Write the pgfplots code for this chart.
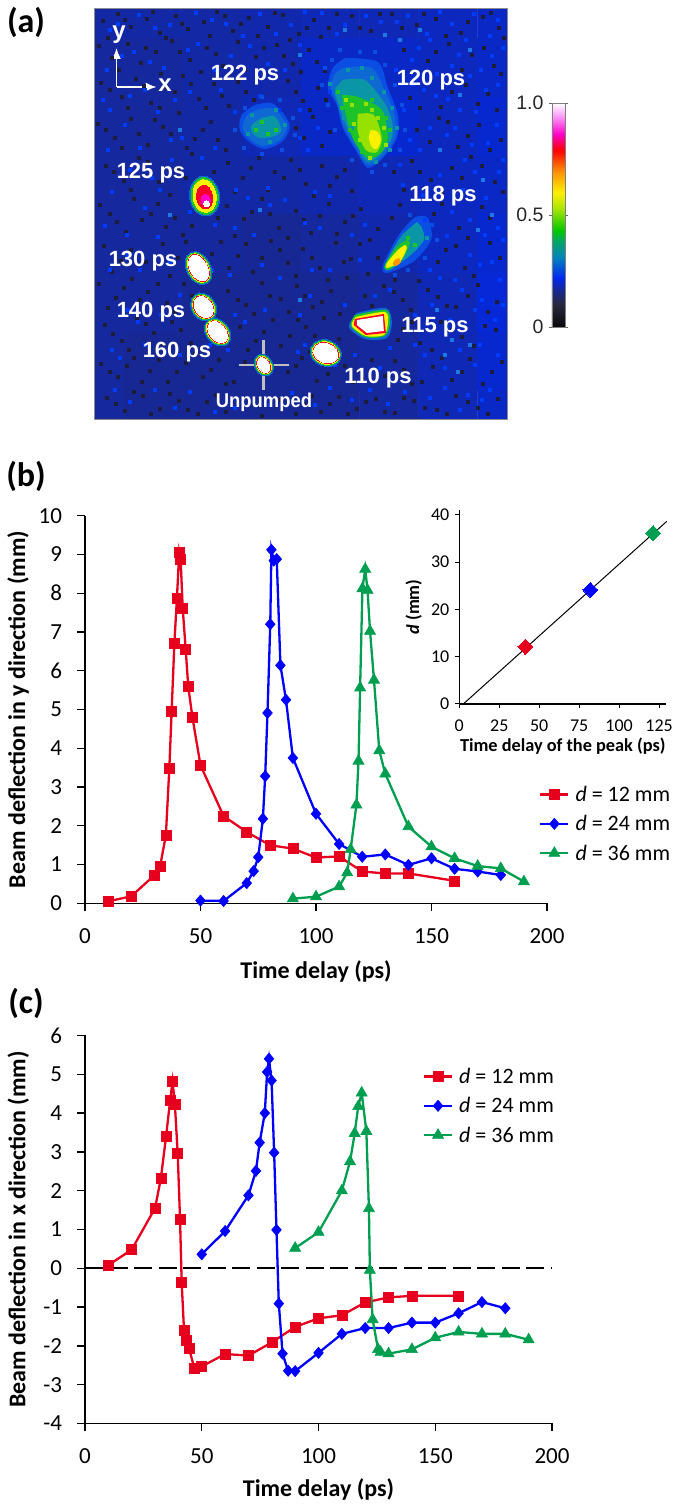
\documentclass[border=0pt]{standalone}
\usepackage{graphicx}
\usepackage{fontspec}
\setmainfont{Carlito}
\newfontfamily\arial{Liberation Sans}
\usepackage{pgfplots}
\pgfplotsset{compat=1.18}
\usetikzlibrary{arrows.meta}

\definecolor{cred}{RGB}{230,0,30}
\definecolor{cblue}{RGB}{0,0,255}
\definecolor{cgreen}{RGB}{0,158,80}
\definecolor{hfaint}{RGB}{10,78,228}
\definecolor{hblue}{RGB}{15,105,210}
\definecolor{hteal}{RGB}{10,150,165}
\definecolor{hgreen}{RGB}{30,195,40}
\definecolor{hlime}{RGB}{150,225,0}
\definecolor{hyellow}{RGB}{250,240,0}
\definecolor{horange}{RGB}{255,150,0}
\definecolor{hred}{RGB}{245,0,40}
\definecolor{hmag}{RGB}{255,0,200}
\definecolor{gdark}{RGB}{28,28,60}
\definecolor{gbright}{RGB}{0,60,255}
\definecolor{gcyan}{RGB}{30,120,230}

\newcommand\fsz[1]{\fontsize{#1}{#1}\selectfont}

\pgfplotsset{
  colormap={beam}{
    rgb255(0pt)=(10,10,10); rgb255(10pt)=(40,40,60); rgb255(16pt)=(25,40,140);
    rgb255(22pt)=(0,40,240); rgb255(31pt)=(0,130,190); rgb255(39pt)=(0,170,90);
    rgb255(43pt)=(0,200,0); rgb255(53pt)=(170,230,0); rgb255(60pt)=(255,240,0);
    rgb255(69pt)=(255,150,0); rgb255(79pt)=(255,0,0); rgb255(86pt)=(255,0,200);
    rgb255(95pt)=(255,170,255); rgb255(100pt)=(255,255,255)},
  lineaxis/.style={
    scale only axis, clip=false,
    axis x line*=bottom, axis y line*=left,
    axis line style={-,line width=1.5pt},
    every tick/.style={black,line width=1.3pt},
    tick align=outside, major tick length=7.5pt,
    /pgf/number format/assume math mode=true,
    tick label style={font=\fsz{23}},
    label style={font=\fsz{24}\bfseries},
    xmin=0, xmax=200, xtick={0,50,100,150,200},
    yticklabel style={xshift=-12pt},
    xticklabel style={yshift=-14pt},
    legend cell align=left,
    legend style={draw=none,fill=none,font=\fsz{22},row sep=12.5pt,inner sep=0pt,
      nodes={inner xsep=6pt,inner ysep=0pt}},
    legend image code/.code={\draw[##1,mark repeat=2,mark phase=2] plot coordinates {(0pt,0pt)(14pt,0pt)(28pt,0pt)};},
  },
  sred/.style={cred,line width=2.3pt,mark=square*,mark size=5pt,mark options={solid,fill=cred,line width=.6pt}},
  sblue/.style={cblue,line width=2.3pt,mark=diamond*,mark size=5.6pt,mark options={solid,fill=cblue,xscale=1.15,line width=.6pt}},
  sgreen/.style={cgreen,line width=2.3pt,mark=triangle*,mark size=6.4pt,mark options={solid,fill=cgreen,line width=.6pt}},
  grain/.style={only marks,mark=square*,mark size=1.5pt,color=#1,mark options={fill=#1,line width=0pt}},
}

\newcommand\spotlayer[6]{\addplot[only marks,mark=*,mark size=1pt,color=#6,
  mark options={fill=#6,line width=0pt,rotate=#5,xscale=#3,yscale=#4}] coordinates {(#1,#2)};}
% white saturated spot with its coloured rim
\newcommand\spot[5]{%
  \spotlayer{#1}{#2}{\fpeval{#3+3.5}}{\fpeval{#4+3.5}}{#5}{hblue}
  \spotlayer{#1}{#2}{\fpeval{#3+2.4}}{\fpeval{#4+2.4}}{#5}{hgreen}
  \spotlayer{#1}{#2}{\fpeval{#3+1.4}}{\fpeval{#4+1.4}}{#5}{hyellow}
  \spotlayer{#1}{#2}{\fpeval{#3+0.7}}{\fpeval{#4+0.7}}{#5}{hred}
  \spotlayer{#1}{#2}{#3}{#4}{#5}{white}
}
\newcommand\blob[2]{\addplot[fill=#1,draw=none,smooth] coordinates {#2};}
\newcommand\lbl[3]{\node[text=white,font=\arial\fsz{22}\bfseries,inner sep=0pt] at (#1pt,1507pt-#2pt) {#3};}

\begin{document}
\begin{tikzpicture}
\path[use as bounding box] (0,0) rectangle (679pt,1507pt);

% (a) camera image, coordinates are picture pixels
\begin{axis}[
  at={(94.5pt,1087pt)}, anchor=south west,
  scale only axis, width=412.5pt, height=411pt,
  xmin=95, xmax=507, ymin=9, ymax=420, y dir=reverse,
  ticks=none, axis line style={draw=black!45,line width=1pt}, axis on top,
  colormap name=beam, point meta min=0, point meta max=1,
  colorbar,
  colorbar style={
    at={(1.109,0.226)}, anchor=south west,
    width=13pt, height=224pt,
    ytick={0,0.5,1}, yticklabels={0,0.5,1.0},
    yticklabel pos=left,
    axis line style={draw=black!50,line width=.8pt},
    every tick/.style={black!60,line width=.6pt},
    tick align=outside, major tick length=3pt,
    yticklabel style={font=\arial\fsz{19.5},text=black!85,xshift=-2pt},
    /pgf/number format/assume math mode=true,
  },
]
\addplot[matrix plot*, mesh/cols=8, point meta=\thisrow{c}] table {
x y c
95 9 .175
154 9 .175
213 9 .175
272 9 .18
330 9 .185
389 9 .185
448 9 .19
507 9 .195
95 68 .17
154 68 .17
213 68 .175
272 68 .18
330 68 .195
389 68 .195
448 68 .19
507 68 .195
95 127 .17
154 127 .17
213 127 .175
272 127 .185
330 127 .195
389 127 .2
448 127 .19
507 127 .2
95 185 .17
154 185 .17
213 185 .175
272 185 .175
330 185 .18
389 185 .185
448 185 .19
507 185 .195
95 244 .17
154 244 .17
213 244 .17
272 244 .165
330 244 .17
389 244 .18
448 244 .19
507 244 .2
95 303 .17
154 303 .17
213 303 .165
272 303 .165
330 303 .165
389 303 .17
448 303 .185
507 303 .205
95 361 .17
154 361 .165
213 361 .165
272 361 .165
330 361 .165
389 361 .17
448 361 .185
507 361 .2
95 420 .17
154 420 .165
213 420 .165
272 420 .165
330 420 .165
389 420 .17
448 420 .185
507 420 .195
};
% dark and bright grains of the background
\addplot[grain=gdark] coordinates {
(103,21)(118,14)(131,27)(147,19)(160,33)(176,16)(188,29)(204,22)(217,12)(233,31)(249,18)(268,27)(283,15)(299,34)(314,20)(329,28)(352,16)(371,31)(392,14)(417,25)(436,19)(461,33)(483,17)(499,28)
(99,46)(112,58)(128,44)(141,63)(156,52)(172,41)(190,60)(207,48)(223,66)(238,42)(256,57)(277,45)(293,64)(309,50)(325,71)(404,50)(428,61)(449,44)(472,55)(494,66)
(101,83)(122,97)(136,79)(151,103)(167,88)(183,76)(199,99)(214,84)(229,106)(246,92)(288,81)(303,101)(318,88)(410,98)(441,107)(466,85)(488,94)
(98,124)(115,138)(131,119)(148,145)(163,127)(179,113)(195,139)(211,122)(226,150)(296,128)(313,117)(322,146)(417,130)(439,118)(458,147)(479,125)(501,140)
(106,166)(124,181)(139,158)(178,169)(192,154)(228,163)(243,178)(259,158)(275,172)(291,160)(306,184)(322,166)(337,177)(352,191)(394,172)(412,161)(431,180)(452,168)(471,157)(495,182)
(100,205)(117,222)(134,199)(151,214)(166,227)(183,235)(227,206)(244,219)(262,199)(279,228)(296,211)(311,233)(329,204)(345,222)(361,209)(378,229)(400,205)(434,214)(459,228)(482,207)
(104,246)(121,261)(163,244)(178,258)(221,242)(238,256)(253,272)(271,241)(288,263)(303,249)(320,268)(336,243)(351,259)(368,274)(446,250)(465,268)(490,243)
(99,284)(116,298)(132,279)(148,292)(167,303)(184,284)(228,291)(246,305)(262,283)(281,299)(297,286)(313,307)(331,291)(347,278)(365,296)(384,286)(403,300)(419,281)(438,297)(456,307)(478,285)(497,302)
(105,325)(122,341)(137,318)(154,333)(172,322)(191,343)(240,327)(256,341)(273,320)(290,336)(306,327)(324,318)(339,339)(403,329)(420,343)(441,322)(462,337)(485,326)
(101,364)(118,377)(134,358)(150,371)(168,382)(186,363)(203,377)(219,360)(234,382)(288,372)(302,358)(317,381)(345,366)(362,379)(395,361)(412,384)(433,367)(452,380)(470,359)(492,372)
(107,398)(125,411)(143,396)(160,409)(179,401)(198,414)(216,395)(304,404)(321,412)(339,397)(357,409)(376,399)(395,413)(414,401)(437,410)(456,396)(478,408)(498,399)
(108,38)(125,20)(153,12)(166,38)(182,24)(210,36)(225,16)(241,24)(258,36)(275,13)(290,40)(307,28)(321,37)(337,14)(360,28)(380,14)(402,28)(424,14)(446,36)(468,22)(491,13)(504,38)
(119,70)(146,48)(161,74)(180,52)(201,72)(216,54)(245,70)(264,48)(284,56)(301,72)(317,62)(412,72)(436,52)(462,70)(484,48)(501,74)
(110,90)(128,108)(144,86)(160,108)(175,92)(191,84)(206,108)(222,96)(238,82)(254,100)(296,92)(310,110)(326,100)(420,108)(452,92)(478,104)(497,110)
(106,130)(122,148)(139,134)(155,120)(171,134)(187,148)(203,130)(218,140)(304,138)(330,132)(430,142)(448,122)(468,136)(490,150)
(114,172)(131,190)(148,162)(159,182)(170,195)(186,178)(214,172)(235,192)(251,168)(268,190)(284,178)(300,170)(314,196)(330,186)(345,170)(404,190)(420,172)(442,192)(462,178)(482,166)(503,192)
(110,214)(126,232)(142,220)(158,204)(175,218)(192,226)(218,218)(235,236)(252,212)(270,214)(288,238)(304,220)(320,216)(337,234)(353,216)(370,240)(392,218)(442,204)(468,238)(490,218)
(112,272)(131,250)(146,262)(170,276)(186,242)(212,254)(229,268)(246,244)(262,258)(280,250)(296,276)(312,258)(328,280)(344,262)(360,244)(378,258)(395,280)(438,262)(456,246)(474,276)(500,258)
(108,308)(124,288)(140,300)(158,284)(175,312)(192,296)(238,300)(254,314)(270,296)(289,312)(305,296)(322,302)(340,314)(372,306)(394,292)(411,310)(428,290)(447,306)(468,296)(488,312)
(113,334)(129,350)(146,324)(163,344)(181,330)(248,350)(264,332)(281,346)(298,320)(315,336)(331,348)(398,340)(412,322)(432,350)(452,330)(474,346)(496,330)
(110,372)(127,366)(142,382)(159,360)(177,372)(195,354)(211,370)(226,384)(245,362)(296,366)(310,352)(328,374)(353,382)(372,360)(385,376)(404,370)(422,382)(442,358)(462,372)(483,384)(502,362)
(116,404)(134,392)(151,414)(170,394)(188,410)(207,402)(226,412)(262,416)(281,400)(296,414)(312,396)(330,404)(348,414)(366,402)(385,412)(404,398)(425,408)(447,414)(468,402)(488,414)
};
\addplot[grain=gbright] coordinates {
(110,30)(139,15)(170,25)(196,13)(226,24)(260,14)(291,25)(322,13)(345,25)(381,22)(408,16)(427,34)(452,24)(474,14)(490,36)
(107,70)(134,52)(164,68)(198,44)(231,56)(268,64)(300,45)(396,70)(419,48)(437,74)(459,55)(481,70)(503,48)
(110,110)(145,90)(175,100)(221,90)(279,110)(330,92)(404,110)(424,90)(448,99)(476,112)(498,85)
(108,150)(171,140)(202,158)(308,150)(420,150)(447,135)(465,160)(488,143)(503,160)
(112,192)(160,190)(236,190)(268,188)(315,192)(403,185)(423,195)(463,190)(486,198)
(127,235)(158,237)(215,225)(254,235)(305,223)(352,235)(447,236)(470,220)(498,228)
(110,270)(140,270)(230,275)(280,278)(330,270)(360,260)(430,270)(455,280)(480,265)(500,280)
(128,310)(161,315)(235,315)(265,310)(300,315)(345,305)(415,315)(450,320)(475,310)(495,320)
(112,350)(145,345)(180,355)(228,350)(305,345)(355,355)(390,348)(425,355)(460,350)(480,345)
(115,390)(155,390)(190,392)(235,408)(292,393)(330,388)(370,390)(405,392)(445,388)(468,395)(490,390)
(118,24)(155,28)(212,20)(243,36)(276,34)(305,12)(337,34)(366,16)(397,22)(440,12)(466,40)(498,20)
(122,56)(150,62)(188,50)(215,70)(250,46)(285,70)(412,60)(430,40)(452,66)(470,76)(492,56)
(103,100)(130,96)(158,112)(190,92)(235,112)(260,96)(300,110)(412,84)(436,96)(460,110)(486,90)
(125,125)(140,148)(182,138)(215,148)(300,138)(318,128)(410,140)(430,128)(455,128)(472,145)(497,125)
(130,170)(152,178)(172,160)(210,180)(248,198)(285,200)(330,196)(400,165)(440,175)(475,172)(499,172)
(105,226)(145,208)(190,212)(235,228)(270,205)(320,228)(365,225)(425,220)(452,212)(485,235)(503,240)
(128,255)(170,262)(212,270)(262,265)(312,270)(390,290)(440,278)(470,255)(492,262)
(138,322)(180,295)(245,322)(310,296)(375,296)(432,305)(462,290)(482,300)(503,305)
(120,358)(165,352)(210,345)(298,352)(335,365)(380,368)(415,345)(445,368)(475,365)(498,355)
(130,402)(175,408)(215,412)(270,405)(315,405)(352,400)(388,404)(430,398)(460,410)(482,400)
};
\addplot[grain=gcyan] coordinates {
(437,310)(445,355)(452,340)(458,372)(470,345)(492,215)(478,230)(483,180)(440,150)(460,95)(470,50)(420,30)(400,40)(385,35)(345,30)(300,55)(180,130)(170,215)(300,300)(260,210)
};
% 122 ps
\blob{hfaint}{(255,105)(272,103)(285,115)(290,128)(282,142)(265,149)(250,142)(240,130)(242,115)(255,105)}
\blob{hblue}{(257,110)(272,108)(283,118)(287,129)(279,141)(263,146)(250,139)(243,128)(247,116)(257,110)}
\blob{hteal}{(262,118)(274,116)(280,124)(281,132)(272,137)(260,138)(252,132)(252,125)(262,118)}
% 120 ps
\blob{hfaint}{(345,58)(378,62)(388,88)(398,115)(397,138)(383,158)(368,168)(357,152)(343,128)(337,105)(328,88)(333,68)(345,58)}
\blob{hblue}{(344,68)(372,68)(386,93)(395,116)(395,138)(382,157)(368,165)(357,150)(344,127)(337,103)(331,88)(335,74)(344,68)}
\blob{hteal}{(343,80)(365,80)(384,102)(392,120)(392,138)(381,154)(368,162)(357,146)(346,124)(338,102)(335,90)(343,80)}
\blob{hgreen}{(342,95)(358,97)(382,110)(388,138)(381,153)(368,158)(354,140)(346,115)(342,95)}
\blob{hlime}{(358,114)(374,115)(382,138)(377,152)(366,150)(358,132)(358,114)}
\blob{hyellow}{(371,130)(378,132)(381,140)(377,149)(372,147)(369,138)(371,130)}
% 118 ps
\blob{hfaint}{(415,217)(427,217)(432,235)(427,247)(413,262)(387,273)(383,265)(397,238)(407,225)(415,217)}
\blob{hteal}{(417,222)(422,228)(424,240)(412,254)(390,270)(385,265)(400,238)(410,228)(417,222)}
\blob{hgreen}{(407,240)(410,243)(403,258)(388,270)(385,265)(397,247)(407,240)}
\blob{hyellow}{(405,245)(407,248)(400,262)(387,268)(387,263)(398,250)(405,245)}
\blob{horange}{(399,258)(401,262)(396,266)(393,264)(395,260)(399,258)}
% rough edges of the three diffuse spots
\addplot[grain=hfaint] coordinates {
(332,60)(340,50)(360,52)(375,52)(385,65)(395,85)(402,105)(405,130)(400,150)(385,165)(372,172)(352,160)(335,130)(328,105)(322,85)(325,68)
(245,108)(262,97)(280,100)(293,118)(295,135)(282,150)(262,154)(244,148)(235,130)
(432,225)(437,240)(425,258)(408,270)(395,275)(410,215)};
\addplot[grain=hteal] coordinates {
(348,70)(362,68)(372,78)(340,88)(330,84)(384,92)(392,108)(397,128)(352,128)(344,118)(390,150)(376,162)
(252,115)(276,110)(285,125)(270,142)(248,134)(420,232)(427,238)(412,250)};
\addplot[grain=hlime] coordinates {
(352,105)(346,100)(362,122)(378,118)(384,128)(360,140)(386,145)(370,158)(354,124)(366,104)(372,110)};
\addplot[grain=hgreen] coordinates {
(338,92)(372,100)(386,118)(390,130)(350,130)(362,152)(342,108)(408,238)(415,245)
(262,122)(276,130)(256,130)(268,134)};
% 115 ps
\blob{hblue}{(357,313)(386,308)(392,322)(387,338)(365,339)(349,327)(357,313)}
\blob{hgreen}{(355,315)(386,310)(390,323)(385,336)(365,337)(351,326)(355,315)}
\blob{hyellow}{(356,317)(385,312)(388,323)(384,335)(366,336)(352,326)(356,317)}
\addplot[fill=hred,draw=none] coordinates {(355,319)(384,314)(386,333)(366,335)(354,325)(355,319)};
\addplot[fill=white,draw=none] coordinates {(357,320)(383,316)(384,331)(367,333)(357,325)(357,320)};
% 125 ps
\spotlayer{205}{196}{20}{15}{-82}{hblue}
\spotlayer{205}{196}{18.5}{13.5}{-82}{hgreen}
\spotlayer{205}{196}{16.5}{11.5}{-82}{hyellow}
\spotlayer{205}{197}{12}{8}{-82}{hred}
\spotlayer{206}{200}{6}{4.5}{-82}{hmag}
\spotlayer{207}{204}{3}{3}{0}{white}
\spot{199}{268}{14}{8.5}{-62}
\spot{204}{307}{11.5}{8.5}{-55}
\spot{218}{332}{12}{8}{-50}
\spot{326}{353}{12.5}{9.5}{-20}
\spot{264}{365}{8}{5.5}{-60}
\addplot[black!25,line width=2.6pt] coordinates {(264,340)(264,390)};
\addplot[black!25,line width=2.6pt] coordinates {(239,365)(289,365)};
\addplot[white,line width=1.6pt,-{Latex[length=11pt,width=9pt]}] coordinates {(117,87)(117,48)};
\addplot[white,line width=1.6pt,-{Latex[length=11pt,width=9pt]}] coordinates {(117,87)(157,87)};
\end{axis}

\node[text=white,font=\arial\fsz{24}\bfseries,inner sep=0pt] at (119pt,1507pt-35pt) {y};
\node[text=white,font=\arial\fsz{24}\bfseries,inner sep=0pt] at (165pt,1507pt-85pt) {x};
\lbl{245}{75}{122 ps}
\lbl{151}{173}{125 ps}
\lbl{431}{80}{120 ps}
\lbl{443}{196}{118 ps}
\lbl{143}{261}{130 ps}
\lbl{151}{312}{140 ps}
\lbl{177}{352}{160 ps}
\lbl{435}{327}{115 ps}
\lbl{378}{378}{110 ps}
\node[text=white,font=\arial\fsz{20}\bfseries,inner sep=0pt] at (264pt,1507pt-402pt) {\scalebox{.92}[1]{Unpumped}};

% (b)
\begin{axis}[
  lineaxis,
  at={(85pt,603.7pt)}, anchor=south west,
  width=462pt, height=387.6pt,
  ymin=0, ymax=10, ytick={0,1,...,10},
  xlabel={Time delay (ps)}, ylabel={Beam deflection in y direction (mm)},
  xlabel style={at={(axis description cs:.5,-.176)},anchor=center},
  ylabel style={at={(axis description cs:-.145,.5)},anchor=center},
  legend style={at={(539pt-85pt,903.3pt-786pt)},anchor=north west},
]
\addplot[sred] coordinates {
(10,0.05)(20,0.18)(30,0.72)(32.5,0.95)(35,1.75)(36.5,3.47)(37.5,4.95)(38.7,6.72)(39.8,7.88)(40.8,9.06)(41.4,8.87)(42.3,7.61)(43.6,6.54)(44.7,5.59)(46.5,4.8)(50,3.56)(60,2.25)(70,1.84)(80,1.5)(90,1.41)(100,1.18)(110,1.21)(120,0.82)(130,0.77)(140,0.77)(160,0.58)};
\addplot[sblue] coordinates {
(50,0.07)(60,0.06)(70,0.52)(73,0.83)(75,1.19)(77,2.18)(78,3.28)(79,4.91)(80.2,7.2)(80.7,9.12)(81.7,8.84)(83,8.88)(84.6,6.14)(87,5.25)(90,3.75)(100,2.31)(110,1.53)(120,1.2)(130,1.26)(140,0.99)(150,1.16)(160,0.89)(170,0.82)(180,0.73)};
\addplot[sgreen] coordinates {
(90,0.12)(100,0.17)(110,0.43)(113.5,0.79)(115,1.39)(117.5,2.54)(118.4,3.67)(119.1,5.56)(120.1,8.12)(121.3,8.62)(122.3,8.08)(123.4,7.02)(125.1,5.76)(127.4,3.94)(130,3.34)(140,1.98)(150,1.46)(160,1.16)(170,0.96)(180,0.9)(190,0.56)};
\legend{\textit{d} = 12 mm,\textit{d} = 24 mm,\textit{d} = 36 mm}
\end{axis}

% inset of (b)
\begin{axis}[
  lineaxis,
  at={(459.3pt,803pt)}, anchor=south west,
  width=207pt, height=194pt,
  xmin=0, xmax=129.5, ymin=0, ymax=41,
  xtick={0,25,50,75,100,125}, ytick={0,10,20,30,40},
  axis line style={-,line width=1.2pt},
  every tick/.style={black,line width=1pt},
  major tick length=4.5pt,
  tick label style={font=\fsz{18}},
  yticklabel style={xshift=10pt}, xticklabel style={yshift=6pt},
  label style={font=\fsz{18.3}\bfseries},
  xlabel={Time delay of the peak (ps)},
  ylabel={\textit{d} (mm)},
  xlabel style={at={(axis description cs:.5,-.215)},anchor=center},
  ylabel style={at={(axis description cs:-.22,.5)},anchor=center},
]
\addplot[black,line width=1pt] coordinates {(2.5,0)(129.8,38.6)};
\addplot[only marks,mark=diamond*,mark size=7.6pt,color=cred,mark options={fill=cred,xscale=1.3,line width=0pt}] coordinates {(41.3,12.1)};
\addplot[only marks,mark=diamond*,mark size=7.6pt,color=cblue,mark options={fill=cblue,xscale=1.3,line width=0pt}] coordinates {(82,24.1)};
\addplot[only marks,mark=diamond*,mark size=7.6pt,color=cgreen,mark options={fill=cgreen,xscale=1.3,line width=0pt}] coordinates {(121.3,36.1)};
\end{axis}

% (c)
\begin{axis}[
  lineaxis,
  at={(85pt,83.5pt)}, anchor=south west,
  width=467pt, height=388pt,
  ymin=-4, ymax=6, ytick={-4,-3,...,6},
  xlabel={Time delay (ps)}, ylabel={Beam deflection in x direction (mm)},
  xlabel style={at={(axis description cs:.5,-.171)},anchor=center},
  ylabel style={at={(axis description cs:-.143,.5)},anchor=center},
  legend style={at={(422.7pt-85pt,1423.5pt-1068pt)},anchor=north west},
]
\addplot[black,line width=1.8pt,dash pattern=on 18pt off 6.5pt,forget plot] coordinates {(0,0)(200,0)};
\addplot[sred] coordinates {
(10,0.08)(20,0.48)(30,1.55)(32.5,2.32)(34.7,3.39)(36.5,4.34)(37.5,4.82)(38.5,4.22)(39.7,2.96)(40.7,1.27)(41.4,-0.36)(42.4,-1.59)(43.4,-1.86)(44.5,-2.05)(46.8,-2.57)(50,-2.53)(60,-2.21)(70,-2.25)(80,-1.91)(90,-1.51)(100,-1.29)(110,-1.21)(120,-0.88)(130,-0.75)(140,-0.71)(160,-0.71)};
\addplot[sblue] coordinates {
(50,0.36)(60,0.96)(70,1.88)(73.2,2.51)(74.8,3.24)(77,4)(78,5.06)(78.8,5.4)(79.9,4.84)(81,2.98)(82,0.99)(83,-0.91)(84.6,-2.2)(87,-2.64)(90,-2.65)(100,-2.18)(110,-1.69)(120,-1.54)(130,-1.54)(140,-1.4)(150,-1.4)(160,-1.16)(170,-0.87)(180,-1.03)};
\addplot[sgreen] coordinates {
(90,0.52)(100,0.93)(110,2)(113.5,2.75)(115.5,3.48)(117,4.17)(118.5,4.52)(120.5,3.53)(121.6,1.54)(122,-0.05)(123.2,-1.32)(125.5,-2.09)(126.6,-2.16)(130,-2.2)(140,-2.09)(150,-1.79)(160,-1.64)(170,-1.69)(180,-1.69)(190,-1.84)};
\legend{\textit{d} = 12 mm,\textit{d} = 24 mm,\textit{d} = 36 mm}
\end{axis}

\node[font=\fsz{34}\bfseries] at (26pt,1507pt-22pt) {(a)};
\node[font=\fsz{34}\bfseries] at (26pt,1507pt-476pt) {(b)};
\node[font=\fsz{34}\bfseries] at (26pt,1507pt-1003pt) {(c)};
\end{tikzpicture}
\end{document}
